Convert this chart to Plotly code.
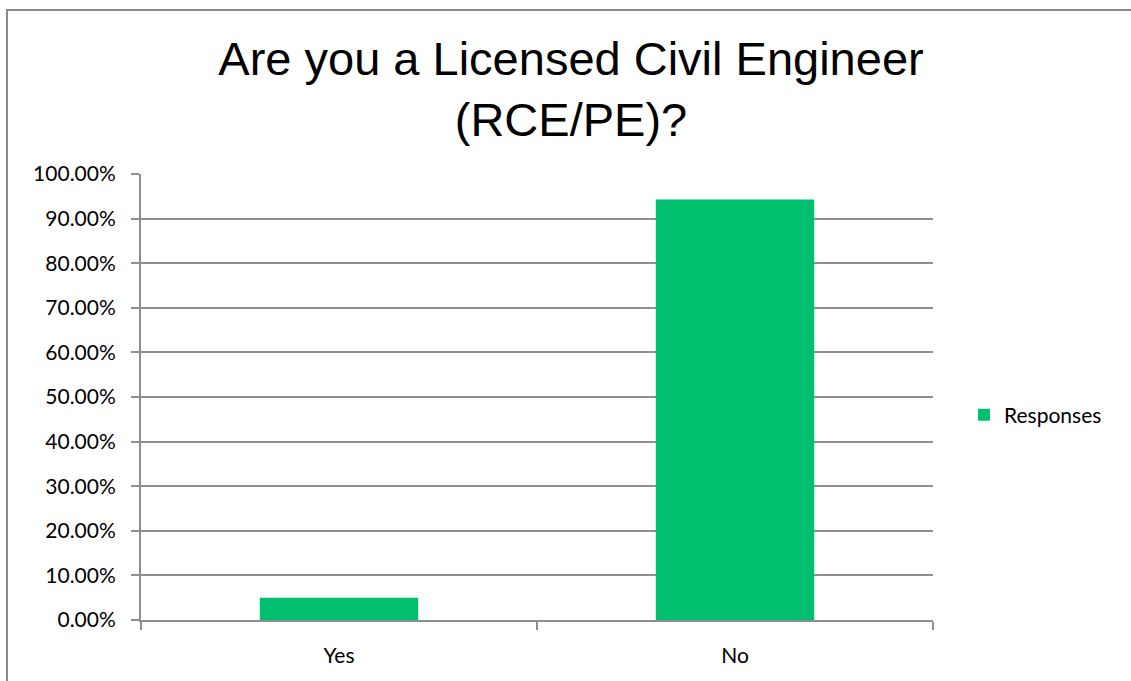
import plotly.graph_objects as go

categories = ["Yes", "No"]
responses = [0.050, 0.943]
series_name = "Responses"
title_text = "Are you a Licensed Civil Engineer<br>(RCE/PE)?"

W, H = 1131, 681
L, R, T, B = 141, 198, 174, 61
pw = W - L - R
ph = H - T - B

green = "#00BF6F"
grid = "#8f8f8f"

fig = go.Figure()
fig.add_trace(go.Bar(
    x=categories, y=responses, name=series_name,
    marker=dict(color=green, line=dict(width=0)),
    showlegend=True,
))

def px2x(px):
    return (px - L) / pw

def py2y(py):
    return 1 - (py - T) / ph

fig.add_shape(type="rect", xref="paper", yref="paper",
              x0=px2x(7), x1=px2x(1140), y0=py2y(700), y1=py2y(10),
              line=dict(color="#888888", width=2), fillcolor="rgba(0,0,0,0)", layer="below")

fig.update_layout(
    width=W, height=H,
    margin=dict(l=L, r=R, t=T, b=B),
    paper_bgcolor="white", plot_bgcolor="white",
    bargap=0.6,
    title=dict(text=title_text, x=571 / W, xanchor="center", y=1 - 75 / H, yanchor="middle",
               yref="container",
               font=dict(family="Liberation Sans, Arial", size=47, color="black")),
    legend=dict(x=px2x(964), xanchor="left", y=py2y(415), yanchor="middle",
                font=dict(family="Lato, Carlito, sans-serif", size=21, color="black"),
                bgcolor="rgba(0,0,0,0)", itemwidth=30),
    xaxis=dict(showline=True, linecolor=grid, linewidth=2, ticks="outside", tickson="boundaries",
               ticklen=8, tickcolor=grid, tickwidth=2, showgrid=False, ticklabelstandoff=16,
               tickfont=dict(family="Lato, Carlito, sans-serif", size=21, color="black")),
    yaxis=dict(range=[0, 1], dtick=0.1, tickformat=".2%", showline=True, linecolor=grid, linewidth=2,
               ticks="outside", ticklen=8, tickcolor=grid, tickwidth=2, ticklabelstandoff=11,
               showgrid=True, gridcolor=grid, gridwidth=2, zeroline=False,
               tickfont=dict(family="Lato, Carlito, sans-serif", size=21, color="black")),
)

fig.write_html("out.html")
